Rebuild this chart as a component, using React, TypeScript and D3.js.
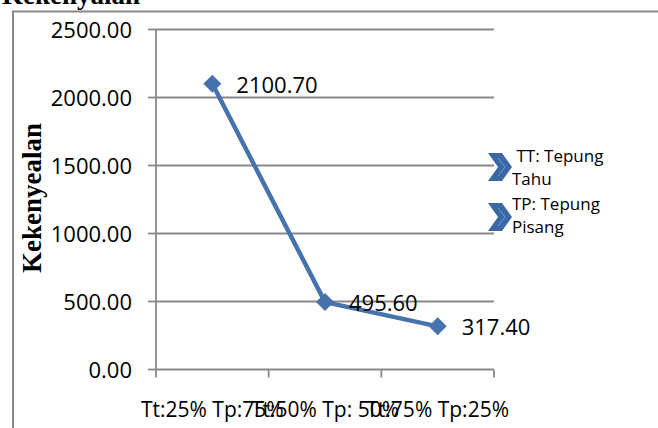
import React from "react";
import * as d3 from "d3";

const categories = ["Tt:25% Tp:75%", "Tt:50% Tp: 50%", "Tt:75% Tp:25%"];
const values = [2100.7, 495.6, 317.4];
const yTicks = [0, 500, 1000, 1500, 2000, 2500];
const legendLines = [
  [" TT: Tepung", "Tahu"],
  ["TP: Tepung", "Pisang"],
];
const chartTitle = "Kekenyalan";
const yTitle = "Kekenyealan";

const W = 658;
const H = 428;
const plot = { left: 156, right: 494, top: 29.5, bottom: 369.5 };
const gray = "#888888";
const blue = "#4672AE";
const numFont = "'Open Sans', 'Noto Sans', sans-serif";
const serif = "'Liberation Serif', 'Times New Roman', serif";

export default function App() {
  const x = d3.scaleBand<string>().domain(categories).range([plot.left, plot.right]);
  const y = d3.scaleLinear().domain([0, 2500]).range([plot.bottom, plot.top]);
  const cx = (c: string) => (x(c) as number) + x.bandwidth() / 2;
  const pts: [number, number][] = categories.map((c, i) => [cx(c), y(values[i])]);
  const line = d3.line()(pts) as string;
  const xTickPos = [...categories.map((c) => x(c) as number), plot.right];
  const fmt = d3.format(".2f");

  const chevron = (x0: number, y0: number, w: number, h: number, d: number) =>
    `M${x0},${y0}L${x0 + w - d},${y0}L${x0 + w},${y0 + h / 2}L${x0 + w - d},${y0 + h}L${x0},${y0 + h}L${x0 + d},${y0 + h / 2}Z`;

  return (
    <svg
      width={W}
      height={H}
      style={{ position: "absolute", left: 0, top: 0, background: "#fff" }}
    >
      <rect x={0} y={0} width={W} height={H} fill="#fff" />
      {/* outer border */}
      <path d={`M13,${H}L13,11.5L${W},11.5`} fill="none" stroke={gray} strokeWidth={2} />
      <text x={2} y={4} fontFamily={serif} fontWeight="bold" fontSize={27} fill="#000">
        {chartTitle}
      </text>

      {/* gridlines & y ticks */}
      {yTicks.map((t) => (
        <g key={t}>
          {t > 0 && (
            <line x1={plot.left} x2={plot.right} y1={y(t)} y2={y(t)} stroke={gray} strokeWidth={1.8} />
          )}
          <line x1={148} x2={plot.left} y1={y(t)} y2={y(t)} stroke={gray} strokeWidth={1.8} />
          <text x={132} y={y(t) + 8} textAnchor="end" fontFamily={numFont} fontSize={22} fill="#000">
            {fmt(t)}
          </text>
        </g>
      ))}
      {/* y axis line */}
      <line x1={plot.left} x2={plot.left} y1={plot.top} y2={plot.bottom} stroke={gray} strokeWidth={1.8} />
      {/* x axis */}
      <line x1={plot.left} x2={plot.right} y1={plot.bottom} y2={plot.bottom} stroke={gray} strokeWidth={1.8} />
      {xTickPos.map((p, i) => (
        <line key={i} x1={p} x2={p} y1={plot.bottom} y2={plot.bottom + 8} stroke={gray} strokeWidth={1.8} />
      ))}
      {categories.map((c) => (
        <text key={c} x={cx(c)} y={417} textAnchor="middle" fontFamily={numFont} fontSize={21} fill="#000" style={{ whiteSpace: "pre" }}>
          {c}
        </text>
      ))}

      {/* y title */}
      <text
        transform="translate(41,198) rotate(-90)"
        textAnchor="middle"
        fontFamily={serif}
        fontWeight="bold"
        fontSize={27}
        fill="#000"
      >
        {yTitle}
      </text>

      {/* series */}
      <path d={line} fill="none" stroke={blue} strokeWidth={4.5} strokeLinejoin="round" />
      {pts.map(([px, py], i) => (
        <path
          key={i}
          d={`M${px},${py - 9}L${px + 9},${py}L${px},${py + 9}L${px - 9},${py}Z`}
          fill={blue}
        />
      ))}
      {pts.map(([px, py], i) => (
        <text key={i} x={px + 24} y={py + 9} fontFamily={numFont} fontSize={22} fill="#000">
          {fmt(values[i])}
        </text>
      ))}

      {/* legend */}
      {legendLines.map((lines, i) => {
        const y0 = 153 + i * 50;
        return (
          <g key={i}>
            <path d={chevron(488, y0, 24, 28, 10)} fill="#3B68A5" />
            <path
              d={`M${500 - 2},${y0 + 5}L${505},${y0 + 14}L${498},${y0 + 23}`}
              fill="none"
              stroke="#6F98CF"
              strokeWidth={1}
            />
            <text x={512} y={162 + i * 48} fontFamily={numFont} fontSize={17} fill="#000" style={{ whiteSpace: "pre" }}>
              {lines[0]}
            </text>
            <text x={512} y={185 + i * 48} fontFamily={numFont} fontSize={17} fill="#000">
              {lines[1]}
            </text>
          </g>
        );
      })}
    </svg>
  );
}
